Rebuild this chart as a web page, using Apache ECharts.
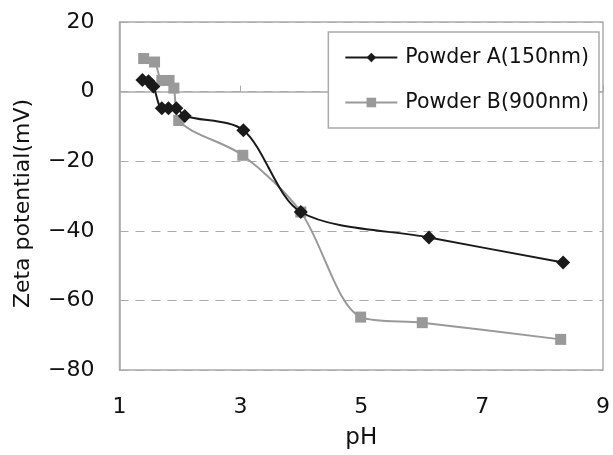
<!DOCTYPE html>
<html><head><meta charset="utf-8">
<script src="https://cdn.jsdelivr.net/npm/echarts@6/dist/echarts.min.js"></script>
<style>html,body{margin:0;padding:0;background:#fff}#c{width:613px;height:455px}</style>
</head><body><div id="c"></div>
<script>
const seriesNames = ['Powder A(150nm)', 'Powder B(900nm)'];
const powderA = [[1.38,3.3],[1.48,3.0],[1.56,1.5],[1.70,-4.8],[1.81,-4.8],[1.94,-4.8],[2.08,-7.0],[3.05,-11.1],[4.0,-34.6],[6.12,-41.9],[8.34,-49.1]];
const powderB = [[1.40,9.5],[1.58,8.5],[1.70,3.2],[1.82,3.2],[1.90,1.0],[1.98,-8.3],[3.04,-18.3],[4.0,-34.6],[4.99,-64.8],[6.01,-66.4],[8.30,-71.2]];
const xTicks = [1,3,5,7,9];
const yTicks = [20,0,-20,-40,-60,-80];

const font = 'DejaVu Sans, Liberation Sans, sans-serif';
const chart = echarts.init(document.getElementById('c'), null, {renderer:'canvas'});
chart.setOption({
  animation:false,
  grid:{left:119.5,right:9,top:22,bottom:85,show:true,borderColor:'#aaa',borderWidth:1.5,backgroundColor:'transparent'},
  legend:{
    right:14, top:32, orient:'vertical', itemGap:24, padding:[15,10,15,16],
    borderColor:'#aaa', borderWidth:1.5, backgroundColor:'#fff',
    itemWidth:52, itemHeight:12,
    textStyle:{fontFamily:font,fontSize:20.5,color:'#111',padding:[0,0,0,3]},
    data:seriesNames
  },
  xAxis:{
    type:'value', min:1, max:9, interval:2,
    name:'pH', nameLocation:'middle', nameGap:57,
    nameTextStyle:{fontFamily:font,fontSize:23,color:'#111'},
    axisLine:{show:true,lineStyle:{color:'#aaa',width:1.5}},
    axisTick:{show:true,inside:true,length:6,lineStyle:{color:'#aaa'}},
    axisLabel:{fontFamily:font,fontSize:22,color:'#111',margin:26,
      formatter:v=>xTicks.includes(v)?String(v):''},
    splitLine:{show:false}
  },
  yAxis:{
    type:'value', min:-80, max:20, interval:20,
    name:'Zeta potential(mV)', nameLocation:'middle', nameGap:85,
    nameTextStyle:{fontFamily:font,fontSize:22,color:'#111',padding:[0,15,0,0]},
    axisLine:{show:true,lineStyle:{color:'#aaa',width:1.5}},
    axisTick:{show:false},
    axisLabel:{fontFamily:font,fontSize:22,color:'#111',margin:25,
      formatter:v=>yTicks.includes(v)?String(v).replace('-','\u2212'):''},
    splitLine:{show:true,lineStyle:{color:'#aaa',type:[9,7],width:1.2}}
  },
  series:[
    {name:seriesNames[0],type:'line',data:powderA,smooth:0.3,
     symbol:'diamond',symbolSize:14,
     lineStyle:{color:'#1a1a1a',width:2},itemStyle:{color:'#1a1a1a'},z:3},
    {name:seriesNames[1],type:'line',data:powderB,smooth:0.3,
     symbol:'rect',symbolSize:11,
     lineStyle:{color:'#999',width:2},itemStyle:{color:'#999'},z:2}
  ]
});
</script></body></html>
